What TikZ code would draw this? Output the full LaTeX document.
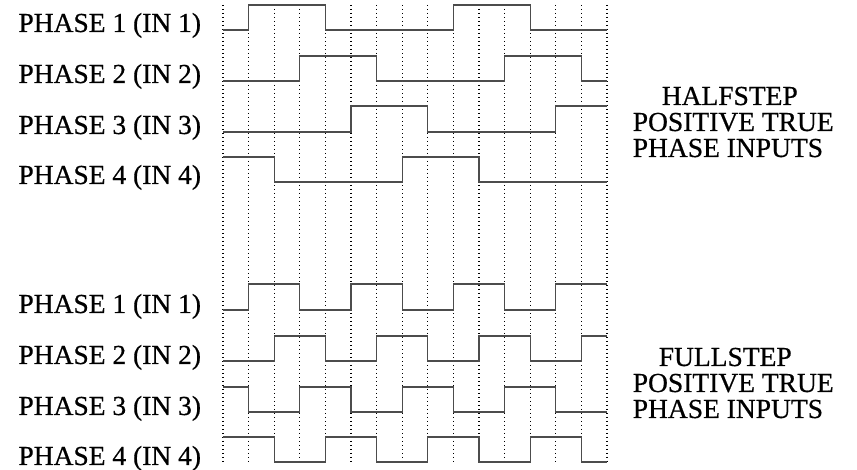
\documentclass[tikz,border=0pt]{standalone}
\usepackage{fontspec}
\setmainfont{Liberation Serif}
\newfontfamily\labelfont{Liberation Serif}[FakeBold=0.6]

\tikzstyle{phase} = [anchor=base east, inner sep=0pt, font=\labelfont\fontsize{27.5}{26}\selectfont]
\tikzstyle{mode} = [anchor=base west, inner sep=0pt, align=left, font=\labelfont\fontsize{27.5}{26}\selectfont]
\tikzstyle{signal} = [line width=1.1pt, draw=black!70]
\tikzstyle{gridline} = [line width=1.1pt, dash pattern=on 1.2pt off 2.8pt]

\begin{document}
\begin{tikzpicture}[x=25.6pt, y=-1pt]
\useasboundingbox (-8.711,0) rectangle (24.766,470);

% dotted time grid
\draw [gridline] (0,5) -- (0,462);
\draw [gridline] (1,5) -- (1,462);
\draw [gridline] (2,5) -- (2,462);
\draw [gridline] (3,5) -- (3,462);
\draw [gridline] (4,5) -- (4,462);
\draw [gridline] (5,5) -- (5,462);
\draw [gridline] (6,5) -- (6,462);
\draw [gridline] (7,5) -- (7,462);
\draw [gridline] (8,5) -- (8,462);
\draw [gridline] (9,5) -- (9,462);
\draw [gridline] (10,5) -- (10,462);
\draw [gridline] (11,5) -- (11,462);
\draw [gridline] (12,5) -- (12,462);
\draw [gridline] (13,5) -- (13,462);
\draw [gridline] (14,5) -- (14,462);
\draw [gridline] (15,5) -- (15,462);

% halfstep
\node (halfIn1) [phase] at (-0.85,32) {PHASE 1 (IN 1)};
\node (halfIn2) [phase] at (-0.85,83) {PHASE 2 (IN 2)};
\node (halfIn3) [phase] at (-0.85,134) {PHASE 3 (IN 3)};
\node (halfIn4) [phase] at (-0.85,184) {PHASE 4 (IN 4)};
\node (halfMode) [mode] at (16,157) {\hspace*{29pt}HALFSTEP\\POSITIVE TRUE\\PHASE INPUTS};

\draw [signal] (0,30) -- (1,30) -- (1,5) -- (4,5) -- (4,30) -- (9,30) -- (9,5) -- (12,5) -- (12,30) -- (15,30);
\draw [signal] (0,81) -- (3,81) -- (3,56) -- (6,56) -- (6,81) -- (11,81) -- (11,56) -- (14,56) -- (14,81) -- (15,81);
\draw [signal] (0,132) -- (5,132) -- (5,106) -- (8,106) -- (8,132) -- (13,132) -- (13,106) -- (15,106);
\draw [signal] (0,157) -- (2,157) -- (2,182) -- (7,182) -- (7,157) -- (10,157) -- (10,182) -- (15,182);

% fullstep
\node (fullIn1) [phase] at (-0.85,313) {PHASE 1 (IN 1)};
\node (fullIn2) [phase] at (-0.85,364) {PHASE 2 (IN 2)};
\node (fullIn3) [phase] at (-0.85,415) {PHASE 3 (IN 3)};
\node (fullIn4) [phase] at (-0.85,465) {PHASE 4 (IN 4)};
\node (fullMode) [mode] at (16,418) {\hspace*{26pt}FULLSTEP\\POSITIVE TRUE\\PHASE INPUTS};

\draw [signal] (0,310) -- (1,310) -- (1,284) -- (3,284) -- (3,310) -- (5,310) -- (5,284) -- (7,284) -- (7,310) -- (9,310) -- (9,284) -- (11,284) -- (11,310) -- (13,310) -- (13,284) -- (15,284);
\draw [signal] (0,361) -- (2,361) -- (2,336) -- (4,336) -- (4,361) -- (6,361) -- (6,336) -- (8,336) -- (8,361) -- (10,361) -- (10,336) -- (12,336) -- (12,361) -- (14,361) -- (14,336) -- (15,336);
\draw [signal] (0,387) -- (1,387) -- (1,412) -- (3,412) -- (3,387) -- (5,387) -- (5,412) -- (7,412) -- (7,387) -- (9,387) -- (9,412) -- (11,412) -- (11,387) -- (13,387) -- (13,412) -- (15,412);
\draw [signal] (0,437) -- (2,437) -- (2,462) -- (4,462) -- (4,437) -- (6,437) -- (6,462) -- (8,462) -- (8,437) -- (10,437) -- (10,462) -- (12,462) -- (12,437) -- (14,437) -- (14,462) -- (15,462);

\end{tikzpicture}
\end{document}
